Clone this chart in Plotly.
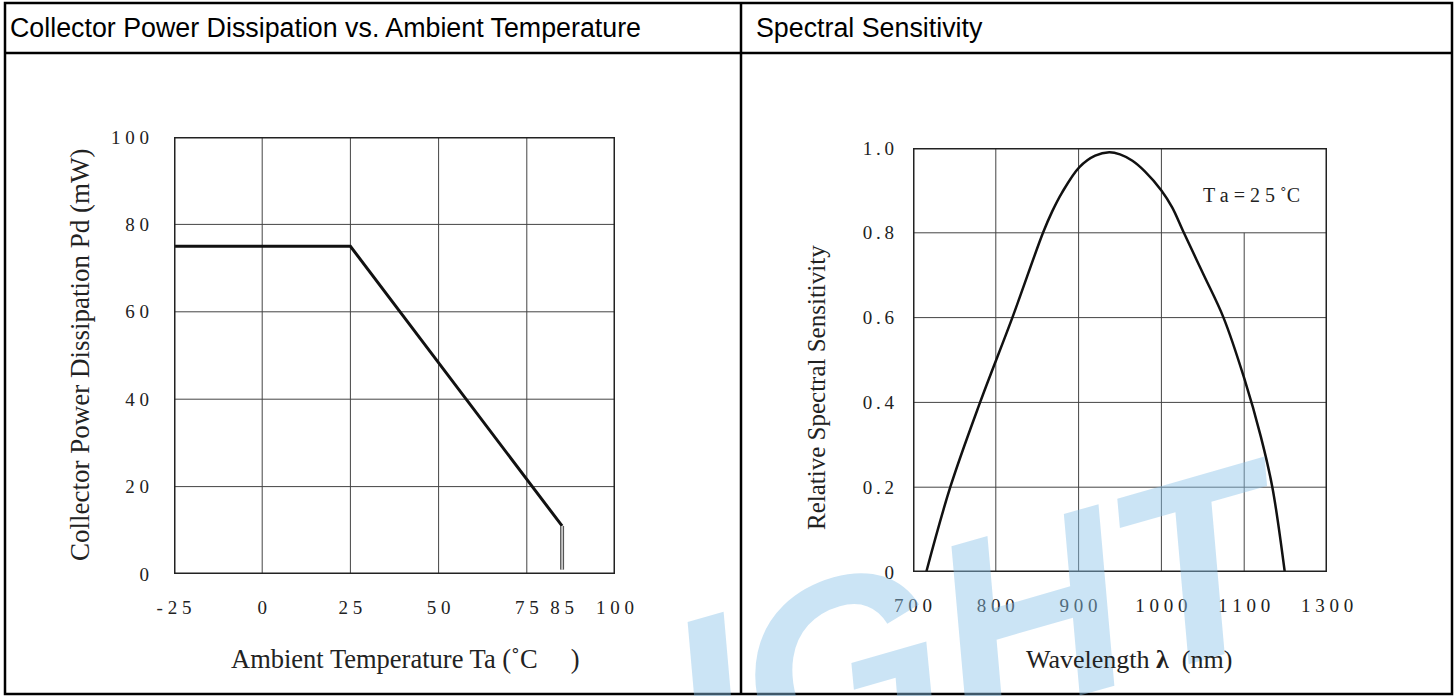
import plotly.graph_objects as go

W, H = 1455, 696

# ---------------- data: Collector Power Dissipation vs. Ambient Temperature
temp_c = [-25, 25, 85]
power_mw = [75, 75, 11]
cutoff_temp = [85, 85]
cutoff_power = [11, 1]
temp_ticks = [-25, 0, 25, 50, 75, 85, 100]
temp_labels = ["- 2 5", "0", "2 5", "5 0", "7 5", "8 5", "1 0 0"]
temp_grid = [0, 25, 50, 75]
power_ticks = [0, 20, 40, 60, 80, 100]
power_labels = ["0", "2 0", "4 0", "6 0", "8 0", "1 0 0"]
power_grid = [20, 40, 60, 80]

# ---------------- data: Spectral Sensitivity
wavelength_nm = [716, 745, 781, 820, 857, 868, 880, 901, 920, 937, 950, 965, 980,
                 1000, 1013, 1026, 1050, 1075, 1100, 1120, 1134, 1149]
rel_sens = [0.0, 0.20, 0.40, 0.60, 0.80, 0.85, 0.895, 0.955, 0.982, 0.99, 0.985, 0.97,
            0.945, 0.90, 0.86, 0.805, 0.705, 0.60, 0.457, 0.32, 0.20, 0.0]
wl_ticks = [700, 800, 900, 1000, 1100, 1200]
wl_labels = ["7 0 0", "8 0 0", "9 0 0", "1 0 0 0", "1 1 0 0", "1 3 0 0"]
wl_grid_full = [800, 900, 1000]
wl_grid_partial = [1100]
sens_ticks = [0, 0.2, 0.4, 0.6, 0.8, 1.0]
sens_labels = ["0", "0\u2009.\u20092", "0\u2009.\u20094", "0\u2009.\u20096", "0\u2009.\u20098", "1\u2009.\u20090"]
sens_grid = [0.2, 0.4, 0.6, 0.8]


def px(x):
    return x / W


def py(y):
    return (H - y) / H


SERIF = "Liberation Serif, Times New Roman, serif"
SANS = "Liberation Sans, Arial, sans-serif"

fig = go.Figure()

fig.add_trace(go.Scatter(x=temp_c, y=power_mw, mode="lines",
                         line=dict(color="#111", width=3), xaxis="x", yaxis="y",
                         hoverinfo="skip", showlegend=False))
fig.add_trace(go.Scatter(x=cutoff_temp, y=cutoff_power, mode="lines",
                         line=dict(color="#555", width=4), xaxis="x", yaxis="y",
                         hoverinfo="skip", showlegend=False))
fig.add_trace(go.Scatter(x=cutoff_temp, y=cutoff_power, mode="lines",
                         line=dict(color="#fff", width=1.2), xaxis="x", yaxis="y",
                         hoverinfo="skip", showlegend=False))
fig.add_trace(go.Scatter(x=wavelength_nm, y=rel_sens, mode="lines",
                         line=dict(color="#111", width=2.5, shape="spline", smoothing=1.0),
                         xaxis="x2", yaxis="y2", hoverinfo="skip", showlegend=False))

tickfont = dict(family=SERIF, size=19, color="#222")
common = dict(showgrid=False, zeroline=False, showline=False, ticks="",
              fixedrange=True, tickfont=tickfont, automargin=False)

fig.update_layout(
    width=W, height=H,
    autosize=False,
    margin=dict(l=0, r=0, t=0, b=0, pad=0, autoexpand=False),
    showlegend=False,
    paper_bgcolor="white", plot_bgcolor="white",
    xaxis=dict(domain=[px(174), px(615)], range=[-25, 100], tickmode="array",
               tickvals=temp_ticks, ticktext=temp_labels, ticklabelstandoff=20,
               anchor="y", **common),
    yaxis=dict(domain=[py(574), py(137)], range=[0, 100], tickmode="array",
               tickvals=power_ticks, ticktext=power_labels, ticklabelstandoff=24,
               anchor="x", **common),
    xaxis2=dict(domain=[px(913), px(1327)], range=[700, 1200], tickmode="array",
                tickvals=wl_ticks, ticktext=wl_labels, ticklabelstandoff=20,
                anchor="y2", **common),
    yaxis2=dict(domain=[py(572), py(148)], range=[0, 1.0], tickmode="array",
                tickvals=sens_ticks, ticktext=sens_labels, ticklabelstandoff=18,
                anchor="x2", **common),
)

shapes = []
grid_line = dict(color="#444", width=1)
for g in temp_grid:
    shapes.append(dict(type="line", xref="x", yref="y", x0=g, x1=g, y0=0, y1=100,
                       line=grid_line, layer="below"))
for g in power_grid:
    shapes.append(dict(type="line", xref="x", yref="y", x0=-25, x1=100, y0=g, y1=g,
                       line=grid_line, layer="below"))
for g in wl_grid_full:
    shapes.append(dict(type="line", xref="x2", yref="y2", x0=g, x1=g, y0=0, y1=1.0,
                       line=grid_line, layer="below"))
for g in wl_grid_partial:
    shapes.append(dict(type="line", xref="x2", yref="y2", x0=g, x1=g, y0=0, y1=0.8,
                       line=grid_line, layer="below"))
for g in sens_grid:
    shapes.append(dict(type="line", xref="x2", yref="y2", x0=700, x1=1200, y0=g, y1=g,
                       line=grid_line, layer="below"))
# plot frames
shapes.append(dict(type="rect", xref="x", yref="y", x0=-25, x1=100, y0=0, y1=100,
                   line=dict(color="#222", width=3), layer="above"))
shapes.append(dict(type="rect", xref="x2", yref="y2", x0=700, x1=1200, y0=0, y1=1.0,
                   line=dict(color="#222", width=3), layer="above"))
# table borders
tb = dict(color="black", width=2.5)
shapes.append(dict(type="rect", xref="paper", yref="paper", x0=px(5), x1=px(1452),
                   y0=py(694), y1=py(3), line=tb, layer="above"))
shapes.append(dict(type="line", xref="paper", yref="paper", x0=px(5), x1=px(1452),
                   y0=py(53), y1=py(53), line=tb, layer="above"))
shapes.append(dict(type="line", xref="paper", yref="paper", x0=px(741), x1=px(741),
                   y0=py(694), y1=py(3), line=tb, layer="above"))
fig.update_layout(shapes=shapes)

ann = []
# watermark (drawn first so the texts sit on top)
ann.append(dict(text="IGHT", xref="paper", yref="paper", x=px(982), y=py(630),
                xanchor="center", yanchor="middle", showarrow=False, textangle=-16,
                font=dict(family=SANS, size=260, color="rgba(140,195,232,0.45)",
                          weight="bold", style="italic")))
ann.append(dict(text="Collector Power Dissipation vs. Ambient Temperature", xref="paper",
                yref="paper", x=px(8), y=py(28), xanchor="left", yanchor="middle",
                showarrow=False, font=dict(family=SANS, size=26.8, color="black")))
ann.append(dict(text="Spectral Sensitivity", xref="paper", yref="paper", x=px(754),
                y=py(28), xanchor="left", yanchor="middle", showarrow=False,
                font=dict(family=SANS, size=26.8, color="black")))
ann.append(dict(text="Collector Power Dissipation Pd (mW)", xref="paper", yref="paper",
                x=px(80), y=py(355), xanchor="center", yanchor="middle", showarrow=False,
                textangle=-90, font=dict(family=SERIF, size=27, color="#222")))
ann.append(dict(text="Ambient Temperature Ta (\u02daC\u2003 )", xref="paper", yref="paper",
                x=px(405), y=py(659), xanchor="center", yanchor="middle", showarrow=False,
                font=dict(family=SERIF, size=26.5, color="#222")))
ann.append(dict(text="Relative Spectral Sensitivity", xref="paper", yref="paper",
                x=px(816), y=py(388), xanchor="center", yanchor="middle", showarrow=False,
                textangle=-90, font=dict(family=SERIF, size=25, color="#222")))
ann.append(dict(text="Wavelength <b>\u03bb</b>  (nm)", xref="paper", yref="paper",
                x=px(1129), y=py(659), xanchor="center", yanchor="middle", showarrow=False,
                font=dict(family=SERIF, size=26, color="#222")))
ann.append(dict(text="T a = 2 5 \u02daC", xref="x2", yref="y2", x=1109, y=0.889,
                xanchor="center", yanchor="middle", showarrow=False,
                font=dict(family=SERIF, size=20, color="#222")))
fig.update_layout(annotations=ann)

fig.write_html("out.html", config={"displayModeBar": False},
               post_script="document.body.style.margin='0';document.body.style.overflow='hidden';")
